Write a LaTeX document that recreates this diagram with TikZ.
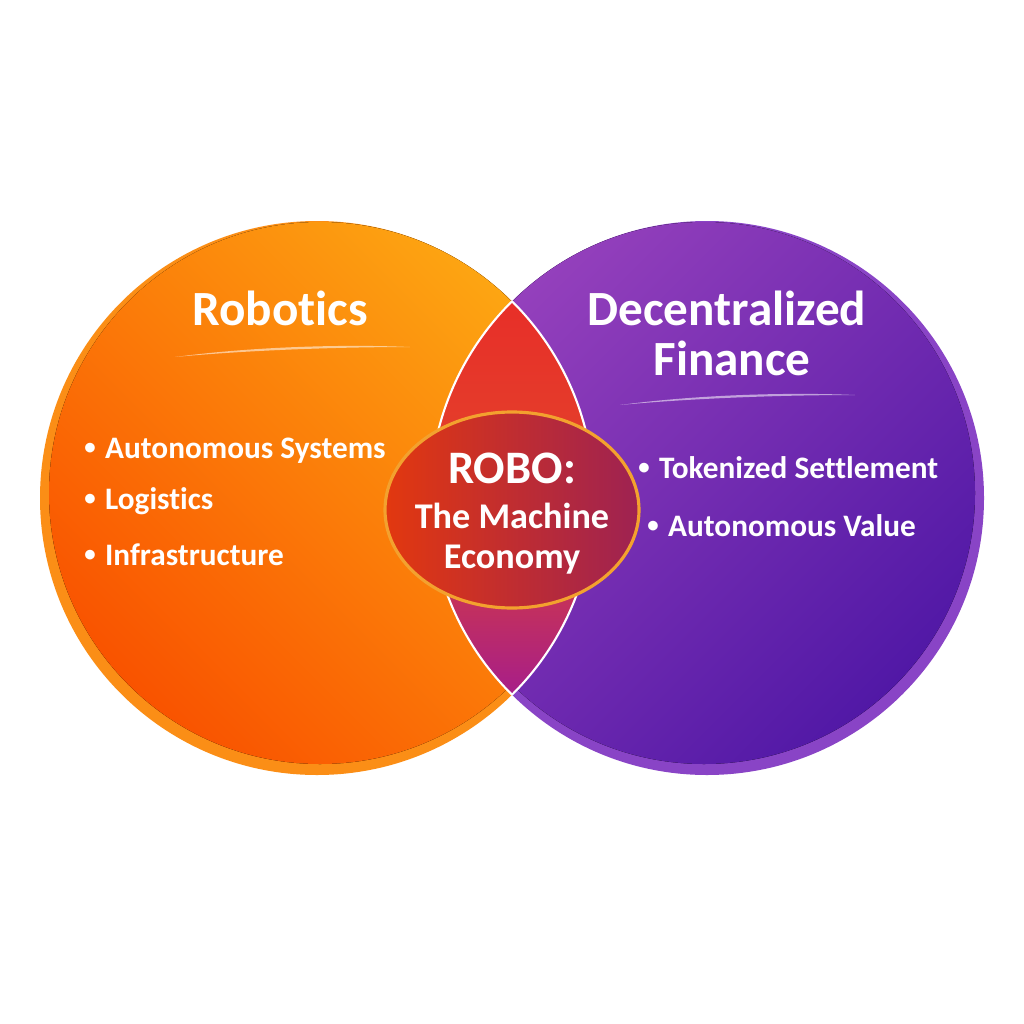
\documentclass[tikz,border=0pt]{standalone}
\usepackage{fontspec}
\setmainfont{Carlito}[Ligatures={CommonOff}]
\usepackage{tikz}
\usetikzlibrary{positioning, shapes.geometric}

\definecolor{roboRim}{HTML}{FB8E16}
\definecolor{roboLight}{HTML}{FDA512}
\definecolor{roboDeep}{HTML}{F95300}
\definecolor{defiRim}{HTML}{8944C6}
\definecolor{defiLight}{HTML}{9440BC}
\definecolor{defiDeep}{HTML}{5118A6}
\definecolor{lensTop}{HTML}{E82E28}
\definecolor{lensMid}{HTML}{E2442C}
\definecolor{lensBot}{HTML}{A41C8E}
\definecolor{coreLeft}{HTML}{E2380F}
\definecolor{coreRight}{HTML}{9E2252}
\definecolor{coreRing}{HTML}{F3A12E}

% small bullet in front of list items
\newcommand{\dotmark}{\raisebox{0.1em}{\fontsize{13}{13}\selectfont\textbullet}\hspace{0.3em}}

\begin{document}
\begin{tikzpicture}[x=0.02cm, y=-0.02cm,
    title/.style={text=white, inner sep=0pt, anchor=base, font=\fontsize{28}{30}\selectfont\bfseries},
    item/.style={text=white, inner sep=0pt, anchor=base west, font=\fontsize{17.8}{20}\selectfont\bfseries},
    corebig/.style={text=white, inner sep=0pt, anchor=base, font=\fontsize{26.5}{28}\selectfont\bfseries},
    coresmall/.style={text=white, inner sep=0pt, anchor=base, font=\fontsize{20.6}{22}\selectfont\bfseries},
    swoosh/.style={fill=white, opacity=0.55}]

% --- Canvas ---
\fill[white] (0,0) rectangle (1024,1024);
\useasboundingbox (0,0) rectangle (1024,1024);

% --- Circle centres ---
\coordinate (L) at (317,498);  % Robotics
\coordinate (R) at (707,498);  % Decentralized Finance

% --- Left circle (rim + shaded body) ---
\fill[roboRim] (L) circle[radius=277];
\fill[top color=roboLight, bottom color=roboDeep, shading angle=-45]
    (320,493) circle[radius=271];

% --- Right circle (rim + shaded body) ---
\fill[defiRim] (R) circle[radius=277];
\fill[top color=defiLight, bottom color=defiDeep, shading angle=45]
    (704,493) circle[radius=271];

% --- Overlap (lens) ---
\begin{scope}
    \clip (L) circle[radius=277];
    \clip (R) circle[radius=277];
    \fill[top color=lensTop, bottom color=lensBot, middle color=lensMid]
        (430,295) rectangle (594,705);
\end{scope}
\begin{scope}
    \clip (R) circle[radius=277];
    \draw[white, line width=1.2pt] (L) circle[radius=277];
\end{scope}
\begin{scope}
    \clip (L) circle[radius=277];
    \draw[white, line width=1.2pt] (R) circle[radius=277];
\end{scope}

% --- Swooshes under the titles ---
\fill[swoosh] (175,357) .. controls (250,347) and (340,344) .. (410,347)
    .. controls (340,347) and (250,350) .. cycle;
\fill[swoosh] (620,405) .. controls (695,395) and (785,392) .. (855,395)
    .. controls (785,395) and (695,398) .. cycle;

% --- Titles ---
\node[title] (robotics) at (280,325) {Robotics};
\node[title] (decentral) at (727,325) {Decentralized};
\node[title] (finance) at (732,375) {Finance};

% --- Items ---
\node[item] (auto) at (84,458) {\dotmark Autonomous Systems};
\node[item] (logi) at (84,509) {\dotmark Logistics};
\node[item] (infra) at (84,565) {\dotmark Infrastructure};

\node[item] (token) at (638,478) {\dotmark Tokenized Settlement};
\node[item] (value) at (647,536) {\dotmark Autonomous Value};

% --- Centre ellipse ---
\node[ellipse, draw=coreRing, line width=1.8pt, left color=coreLeft, right color=coreRight,
    minimum width=254*0.02cm, minimum height=196*0.02cm] (core) at (512,510) {};

\node[corebig] (robo) at (512,483) {ROBO:};
\node[coresmall] (machine) at (512,528) {The Machine};
\node[coresmall] (economy) at (512,568) {Economy};

\end{tikzpicture}
\end{document}
